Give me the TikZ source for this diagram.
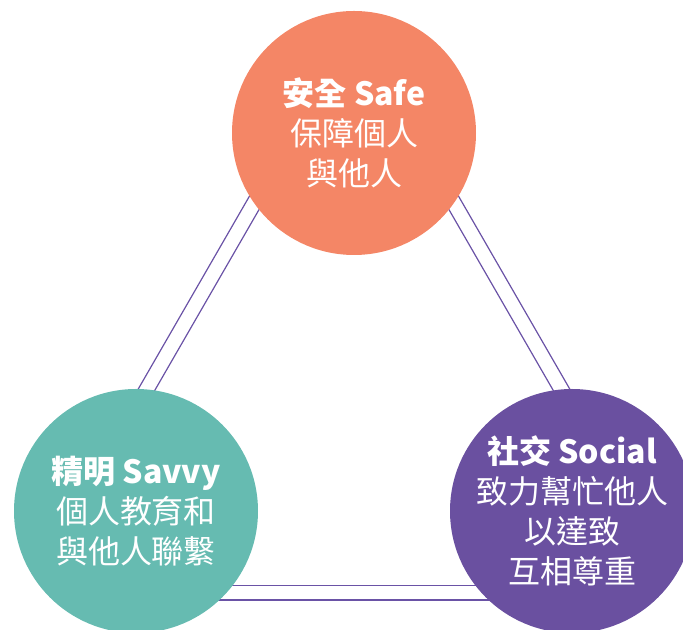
\documentclass[tikz,border=0pt]{standalone}
\usepackage{fontspec}
\setmainfont{Noto Sans CJK TC}
\usetikzlibrary{backgrounds}
\definecolor{cSafe}{HTML}{F48666}
\definecolor{cSavvy}{HTML}{66BBB1}
\definecolor{cSocial}{HTML}{6A50A0}
\definecolor{cLink}{HTML}{6A52A6}
\tikzset{
  blob/.style={circle, minimum size=183pt, inner sep=0pt, text=white,
    align=center, font=\fontsize{24pt}{30pt}\selectfont},
  link/.style={draw=cLink, line width=0.9pt}
}
\begin{document}
\begin{tikzpicture}[x=0.75pt,y=-0.75pt]
\useasboundingbox (0,0) rectangle (683,630);
\clip (0,0) rectangle (683,630);
\node[blob, fill=cSafe] (safe) at (354,133) {\textbf{安全 Safe}\\保障個人\\與他人};
\node[blob, fill=cSavvy] (savvy) at (136,511) {\textbf{精明 Savvy}\\個人教育和\\與他人聯繫};
\node[blob, fill=cSocial] (social) at (572,511) {\textbf{社交 Social}\\致力幫忙他人\\以達致\\互相尊重};
\begin{pgfonlayer}{background}
\draw[link] ([shift={(-38.1,-22)}]safe.center) -- ([shift={(-38.1,-22)}]savvy.center);
\draw[link] ([shift={(-51.1,-29.5)}]safe.center) -- ([shift={(-51.1,-29.5)}]savvy.center);
\draw[link] ([shift={(38.1,-22)}]safe.center) -- ([shift={(38.1,-22)}]social.center);
\draw[link] ([shift={(51.1,-29.5)}]safe.center) -- ([shift={(51.1,-29.5)}]social.center);
\draw[link] ([shift={(0,74.7)}]savvy.center) -- ([shift={(0,74.7)}]social.center);
\draw[link] ([shift={(0,89)}]savvy.center) -- ([shift={(0,89)}]social.center);
\end{pgfonlayer}
\end{tikzpicture}
\end{document}
